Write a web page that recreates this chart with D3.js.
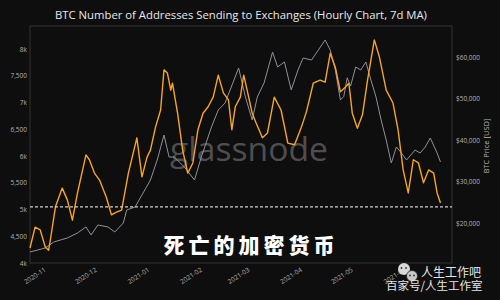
<!DOCTYPE html>
<html>
<head>
<meta charset="utf-8">
<script src="https://cdn.jsdelivr.net/npm/d3@7"></script>
<style>
  body { margin: 0; background: #0e0e0e; }
  svg { display: block; }
</style>
</head>
<body>
<script>
// addresses sending to exchanges (7d MA)
var addrDates = ["2020-10-22","2020-10-25","2020-10-28","2020-10-31","2020-11-02","2020-11-03","2020-11-06","2020-11-10","2020-11-13","2020-11-16",
  "2020-11-19","2020-11-24","2020-11-26","2020-11-29","2020-12-02","2020-12-06","2020-12-09","2020-12-12","2020-12-15","2020-12-19",
  "2020-12-24","2020-12-27","2020-12-30","2021-01-01","2021-01-04","2021-01-07","2021-01-09","2021-01-11","2021-01-13","2021-01-14",
  "2021-01-17","2021-01-20","2021-01-23","2021-01-26","2021-01-29","2021-02-01","2021-02-04","2021-02-07","2021-02-10","2021-02-13",
  "2021-02-16","2021-02-18","2021-02-20","2021-02-23","2021-02-25","2021-02-27","2021-03-02","2021-03-04","2021-03-08","2021-03-11",
  "2021-03-15","2021-03-19","2021-03-23","2021-03-27","2021-03-31","2021-04-03","2021-04-07","2021-04-11","2021-04-14","2021-04-17",
  "2021-04-20","2021-04-23","2021-04-26","2021-04-28","2021-04-30","2021-05-03","2021-05-06","2021-05-09","2021-05-13","2021-05-16",
  "2021-05-20","2021-05-24","2021-05-27","2021-05-30","2021-06-02","2021-06-05","2021-06-08","2021-06-11","2021-06-14","2021-06-17",
  "2021-06-19","2021-06-21"];
var addrValues = [4280,4670,4620,4300,4240,4430,5050,5400,5180,4800,
  5310,6020,5930,5680,5550,5230,4900,4950,4990,5680,
  6340,5610,5980,6110,6540,6860,7610,7550,7230,7360,
  6800,6110,5680,5870,6490,6800,6920,7100,7510,7180,
  7050,6490,6920,7100,7510,7230,6800,6640,6340,6430,
  7100,6860,6240,6210,6540,6830,7360,7420,7380,7920,
  7660,7200,7290,7360,6800,6520,6770,7420,8170,7850,
  7230,6990,6490,5740,5310,5930,5870,5500,5740,5680,
  5310,5120];

// btc price
var priceDates = ["2020-10-22","2020-10-31","2020-11-05","2020-11-13","2020-11-19","2020-11-24","2020-11-27","2020-12-01","2020-12-07","2020-12-11",
  "2020-12-16","2020-12-18","2020-12-23","2020-12-27","2021-01-01","2021-01-05","2021-01-09","2021-01-12","2021-01-15","2021-01-21",
  "2021-01-27","2021-01-31","2021-02-06","2021-02-10","2021-02-14","2021-02-22","2021-02-26","2021-03-02","2021-03-05","2021-03-09",
  "2021-03-14","2021-03-17","2021-03-21","2021-03-25","2021-03-29","2021-04-01","2021-04-06","2021-04-14","2021-04-17","2021-04-20",
  "2021-04-23","2021-04-25","2021-04-27","2021-04-29","2021-05-02","2021-05-05","2021-05-08","2021-05-11","2021-05-14","2021-05-17",
  "2021-05-20","2021-05-23","2021-05-26","2021-05-29","2021-06-01","2021-06-06","2021-06-09","2021-06-12","2021-06-15","2021-06-19",
  "2021-06-21"];
var priceValues = [13000,13980,15420,16390,17590,19040,17110,19520,19040,17830,
  20000,23130,23860,26750,30360,35180,41200,35900,35900,33490,
  30360,35900,43130,47230,48920,57350,50360,44820,50360,53740,
  61200,57590,58800,52050,56870,59760,59280,64100,61690,56870,
  49640,50500,55000,53000,57590,56870,58800,54460,50360,44820,
  40000,34460,38310,36870,35180,37590,36870,38310,40480,36870,
  34700];

var leftTicks = [4000,4500,5000,5500,6000,6500,7000,7500,8000];
var rightTicks = [20000,30000,40000,50000,60000];
var refLevel = 5050;

var W = 500, H = 300;
var plot = {left: 30, right: 452, top: 26, bottom: 263};
var parseDay = d3.utcParse("%Y-%m-%d");

var svg = d3.select("body").append("svg")
  .attr("width", W).attr("height", H);

svg.append("rect").attr("x", 0).attr("y", 0).attr("width", W).attr("height", H)
  .style("fill", "#0e0e0e");

// scales
var x = d3.scaleUtc()
  .domain([Date.UTC(2020, 9, 22), Date.UTC(2021, 5, 27, 19)])
  .range([plot.left, plot.right]);
var yAddr = d3.scaleLinear().domain([4000, 8000]).range([plot.bottom, 49]);
var yPrice = d3.scaleLinear().domain([20000, 60000]).range([223, 57]);

// frame
svg.append("rect")
  .attr("x", plot.left).attr("y", plot.top)
  .attr("width", plot.right - plot.left).attr("height", plot.bottom - plot.top)
  .style("fill", "none").style("stroke", "#333").style("stroke-width", 1);

// watermark
var wm = svg.append("text")
  .attr("x", 249).attr("y", 161)
  .attr("text-anchor", "middle")
  .style("font-family", "Open Sans, sans-serif")
  .style("font-size", "34px")
  .style("fill", "#4e4e4e")
  .text("glassnode");
var wmLen = wm.node().getComputedTextLength();
wm.style("font-size", (34 * 158 / wmLen) + "px");

// axes
var leftAxis = d3.axisLeft(yAddr).tickValues(leftTicks).tickSize(0).tickPadding(3)
  .tickFormat(function(d){ return d % 1000 === 0 ? (d / 1000) + "k" : d3.format(",")(d); });
var gL = svg.append("g").attr("transform", "translate(" + plot.left + ",0)").call(leftAxis);

var rightAxis = d3.axisRight(yPrice).tickValues(rightTicks).tickSize(0).tickPadding(4)
  .tickFormat(function(d){ return "$" + d3.format(",")(d); });
var gR = svg.append("g").attr("transform", "translate(" + plot.right + ",0)").call(rightAxis);

var bottomAxis = d3.axisBottom(x).ticks(d3.utcMonth.every(1)).tickSize(0)
  .tickFormat(d3.utcFormat("%Y-%m"));
var gB = svg.append("g").attr("transform", "translate(0," + plot.bottom + ")").call(bottomAxis);
gB.selectAll("text")
  .attr("text-anchor", "end")
  .attr("dy", null).attr("y", null)
  .attr("transform", "translate(-1,8) rotate(-33)");

[gL, gR, gB].forEach(function(g){
  g.select(".domain").remove();
  g.selectAll("text")
    .style("font-family", "Open Sans, sans-serif")
    .style("font-size", "6.5px")
    .style("fill", "#b4b4b4");
});

// right axis title
svg.append("text")
  .attr("transform", "translate(489,146) rotate(-90)")
  .attr("text-anchor", "middle")
  .style("font-family", "Open Sans, sans-serif")
  .style("font-size", "7.5px")
  .style("fill", "#b4b4b4")
  .text("BTC Price [USD]");

// lines
var priceLine = d3.line()
  .x(function(d, i){ return x(parseDay(priceDates[i])); })
  .y(function(d){ return yPrice(d); });
svg.append("path").datum(priceValues)
  .attr("d", priceLine)
  .style("fill", "none").style("stroke", "#8e909c").style("stroke-width", 1);

var addrLine = d3.line()
  .x(function(d, i){ return x(parseDay(addrDates[i])); })
  .y(function(d){ return yAddr(d); });
svg.append("path").datum(addrValues)
  .attr("d", addrLine)
  .style("fill", "none").style("stroke", "#f6a524").style("stroke-width", 1.4)
  .style("stroke-linejoin", "round");

// dashed reference
svg.append("line")
  .attr("x1", plot.left).attr("x2", plot.right)
  .attr("y1", yAddr(refLevel)).attr("y2", yAddr(refLevel))
  .style("stroke", "#d0d0d0").style("stroke-width", 1.2).style("stroke-dasharray", "3,2");

// title
var title = svg.append("text")
  .attr("x", 241).attr("y", 19)
  .attr("text-anchor", "middle")
  .style("font-family", "Open Sans, sans-serif")
  .style("font-size", "13px")
  .style("fill", "#e8e8e8")
  .text("BTC Number of Addresses Sending to Exchanges (Hourly Chart, 7d MA)");
var tLen = title.node().getComputedTextLength();
title.style("font-size", (13 * 372 / tLen) + "px");

// overlay caption
svg.append("text")
  .attr("x", 251).attr("y", 253)
  .attr("text-anchor", "middle")
  .style("font-family", "Noto Sans CJK SC, sans-serif")
  .style("font-weight", "900")
  .style("font-size", "21px")
  .style("letter-spacing", "4px")
  .style("fill", "#ffffff")
  .text("死亡的加密货币");

// bottom-right stamp
var stamp = svg.append("g");
stamp.append("circle").attr("cx", 404).attr("cy", 269).attr("r", 6).style("fill", "#d8d8d8");
stamp.append("circle").attr("cx", 412).attr("cy", 276).attr("r", 5.5).style("fill", "#c8c8c8")
  .style("stroke", "#222").style("stroke-width", 0.8);
[[401.5,268],[406,268],[410,275.5],[414,275.5]].forEach(function(p){
  stamp.append("circle").attr("cx", p[0]).attr("cy", p[1]).attr("r", 0.9).style("fill", "#333");
});
stamp.append("text").attr("x", 421).attr("y", 277)
  .style("font-family", "Noto Sans CJK SC, sans-serif").style("font-size", "12px")
  .style("fill", "#e6e6e6").text("人生工作吧");
stamp.append("text").attr("x", 386).attr("y", 290)
  .style("font-family", "Noto Sans CJK SC, sans-serif").style("font-size", "11.5px")
  .style("fill", "#e6e6e6").text("百家号/人生工作室");
</script>
</body>
</html>
